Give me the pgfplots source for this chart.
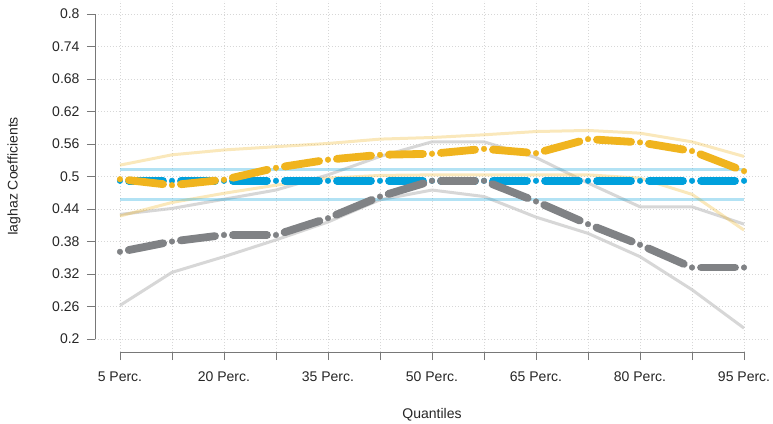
\documentclass[border=0pt]{standalone}
\usepackage{pgfplots}
\usepackage{pgfplotstable}
\pgfplotsset{compat=1.18}
\usepackage{fontspec}
\setmainfont{Liberation Sans}

\definecolor{cgray}{RGB}{128,130,133}
\definecolor{cyel}{RGB}{240,180,30}
\definecolor{cblue}{RGB}{0,160,220}
\definecolor{axgray}{RGB}{120,120,120}
\definecolor{gridgray}{RGB}{215,215,215}

\pgfplotstableread{
x gest glo ghi yest ylo yhi best blo bhi
0  0.361 0.262 0.430 0.495 0.427 0.521 0.492 0.458 0.513
1  0.380 0.323 0.441 0.484 0.452 0.540 0.492 0.458 0.513
2  0.392 0.352 0.458 0.494 0.469 0.549 0.492 0.458 0.513
3  0.392 0.383 0.475 0.516 0.484 0.555 0.492 0.458 0.513
4  0.423 0.416 0.503 0.531 0.497 0.561 0.492 0.458 0.513
5  0.463 0.457 0.537 0.540 0.502 0.569 0.492 0.458 0.513
6  0.492 0.475 0.564 0.542 0.503 0.572 0.492 0.458 0.513
7  0.492 0.463 0.564 0.551 0.503 0.577 0.492 0.458 0.513
8  0.454 0.425 0.535 0.543 0.503 0.583 0.492 0.458 0.513
9  0.412 0.395 0.488 0.569 0.503 0.585 0.492 0.458 0.513
10 0.374 0.352 0.444 0.563 0.497 0.580 0.492 0.458 0.513
11 0.332 0.291 0.444 0.547 0.467 0.564 0.492 0.458 0.513
12 0.332 0.220 0.412 0.510 0.401 0.537 0.492 0.458 0.513
}\data

% segmented line (R type="b") with dots at the points
\newcommand\segplot[2]{%
  \pgfplotsforeachungrouped \i in {0,...,11}{%
    \pgfmathtruncatemacro\j{\i+1}%
    \pgfplotstablegetelem{\i}{#1}\of\data \let\ya\pgfplotsretval
    \pgfplotstablegetelem{\j}{#1}\of\data \let\yb\pgfplotsretval
    \edef\tmp{\noexpand\addplot[draw=#2, line width=7.8bp, line cap=round, shorten <=9bp, shorten >=9bp, forget plot] coordinates {(\i,\ya) (\j,\yb)};}%
    \tmp
  }%
  \addplot[only marks, mark=*, mark size=2.8bp, color=#2, mark options={draw=#2, fill=#2}, forget plot] table[x=x, y=#1]{\data};
}

\begin{document}
\begin{tikzpicture}
\begin{axis}[
  at={(0,0)}, anchor=south west,
  scale only axis,
  width=674bp, height=351bp,
  xmin=-0.48, xmax=12.48,
  ymin=0.176, ymax=0.824,
  clip=false,
  axis x line*=bottom, axis y line*=left,
  axis line style={draw=none},
  tick align=outside,
  major tick length=8bp,
  every tick/.style={axgray, line width=0.8bp},
  xtick={0,...,12},
  xticklabels={5 Perc.,,20 Perc.,,35 Perc.,,50 Perc.,,65 Perc.,,80 Perc.,,95 Perc.},
  ytick={0.2,0.26,0.32,0.38,0.44,0.5,0.56,0.62,0.68,0.74,0.8},
  yticklabels={0.2,0.26,0.32,0.38,0.44,0.5,0.56,0.62,0.68,0.74,0.8},
  grid=major,
  grid style={gridgray, line width=0.6bp, dash pattern=on 0.8bp off 2.2bp},
  tick label style={font=\fontsize{14bp}{16bp}\selectfont, text=black!85},
  yticklabel style={anchor=east, xshift=-4bp},
  xticklabel style={anchor=north, yshift=-8bp},
  xlabel={Quantiles},
  ylabel={Iaghaz Coefficients},
  label style={font=\fontsize{14bp}{16bp}\selectfont, text=black!85, inner sep=0pt},
  xlabel style={at={(axis description cs:0.5,-0.1795)}, anchor=center},
  ylabel style={at={(axis description cs:-0.1202,0.5)}, anchor=center},
]
% confidence bands
\addplot[color=gray!45, opacity=0.7, line width=3bp] table[x=x,y=glo]{\data};
\addplot[color=gray!45, opacity=0.7, line width=3bp] table[x=x,y=ghi]{\data};
\addplot[color=cyel, opacity=0.3, line width=3bp] table[x=x,y=ylo]{\data};
\addplot[color=cyel, opacity=0.3, line width=3bp] table[x=x,y=yhi]{\data};
\addplot[color=cblue, opacity=0.3, line width=3bp] table[x=x,y=blo]{\data};
\addplot[color=cblue, opacity=0.3, line width=3bp] table[x=x,y=bhi]{\data};
% estimates
\segplot{best}{cblue}
\segplot{gest}{cgray}
\segplot{yest}{cyel}
% R-style axis lines
\draw[axgray, line width=0.8bp] (axis cs:-0.48,0.2) -- (axis cs:-0.48,0.8);
\draw[axgray, line width=0.8bp] (axis cs:0,0.176) -- (axis cs:12,0.176);
\end{axis}
\pgfresetboundingbox
\useasboundingbox (-95bp,-72bp) rectangle (678bp,352bp);
\end{tikzpicture}
\end{document}
